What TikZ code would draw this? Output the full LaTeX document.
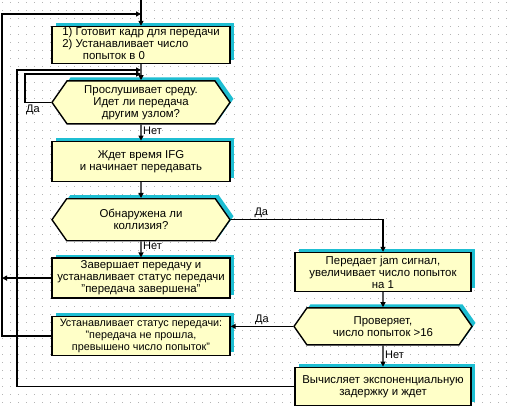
\documentclass[tikz,border=0pt]{standalone}
\usepackage{fontspec}
\setmainfont{Liberation Sans}
\usetikzlibrary{arrows.meta, positioning, shapes.symbols, shadows}

\definecolor{boxfill}{RGB}{255,255,200}
\definecolor{shadowc}{RGB}{30,190,210}
\definecolor{gridc}{RGB}{180,180,180}

\begin{document}
\begin{tikzpicture}[x=1pt, y=-1pt,
  block/.style={draw, line width=1.4pt, fill=boxfill, minimum width=178pt,
                align=center, inner sep=1pt, font=\fontsize{11.4}{12}\selectfont,
                general shadow={fill=shadowc, shadow xshift=3.5pt, shadow yshift=3.5pt}},
  stepbox/.style={block, rectangle},
  testbox/.style={block, signal, signal to=west and east, signal pointer angle=110},
  lbl/.style={font=\fontsize{11}{12}\selectfont, inner sep=1.5pt},
  arr/.style={line width=1.3pt, -{Triangle[length=5pt, width=5pt]}},
  node distance=16pt
]
  \useasboundingbox (0,0) rectangle (508,406);
  % dotted background
  \foreach \gx in {2,10,...,506}
    \foreach \gy in {2,10,...,402}
      \fill[gridc] (\gx,\gy) rectangle ++(1,1);

  % left column
  \node[stepbox, minimum height=37pt, align=left] (prep) at (141,45)
    {1) Готовит кадр для передачи\\ 2) Устанавливает число\\ \phantom{2) У}попыток в 0};
  \node[testbox, minimum height=43pt, below=of prep] (listen)
    {Прослушивает среду.\\ Идет ли передача\\ другим узлом?};
  \node[stepbox, minimum height=40pt, below=of listen] (ifg)
    {Ждет время IFG\\ и начинает передавать};
  \node[testbox, minimum height=42pt, below=of ifg] (coll)
    {Обнаружена ли\\ коллизия?};
  \node[stepbox, minimum height=40pt, below=of coll] (done)
    {Завершает передачу и\\ устанавливает статус передачи\\ "передача завершена"};
  \node[stepbox, minimum height=39pt, below=17pt of done, font=\fontsize{10.8}{12}\selectfont] (fail)
    {Устанавливает статус передачи:\\ "передача не прошла,\\ превышено число попыток"};

  % right column
  \node[stepbox, minimum width=176pt, minimum height=39pt] (jam) at (383,272)
    {Передает jam сигнал,\\ увеличивает число попыток\\ на 1};
  \node[testbox, minimum height=37pt, below=15pt of jam] (count)
    {Проверяет,\\ число попыток >16};
  \node[stepbox, minimum width=176pt, minimum height=38pt, below=21pt of count] (backoff)
    {Вычисляет экспоненциальную\\ задержку и ждет};

  \coordinate (entry) at (141,0);
  \coordinate (back1) at (141,14);
  \coordinate (back2) at (141,70);
  \coordinate (back3) at (141,74);
  \coordinate (outer) at (2,0);
  \coordinate (inner) at (17,0);

  \draw[arr] (entry) -- (prep);
  \draw[arr] (prep) -- (listen);
  \draw[arr] (listen) -- node[lbl, right, pos=0.4] {Нет} (ifg);
  \draw[arr] (ifg) -- (coll);
  \draw[arr] (coll) -- node[lbl, right, pos=0.3] {Нет} (done);
  \draw[arr] (coll.east) -| node[lbl, above, pos=0.1] {Да} (jam);
  \draw[arr] (jam) -- (count);
  \draw[arr] (count.west) -- node[lbl, above] {Да} (count.west -| fail.east);
  \draw[arr] (count) -- node[lbl, right, pos=0.45] {Нет} (backoff);

  % loops back
  \draw[arr] (listen.west) -- node[lbl, below, pos=0.7] {Да} ++(-26,0) |- (back3);
  \draw[arr] (backoff.west) -| (inner |- back2) -- (back2);
  \draw[arr] (fail.west) -| (outer |- back1) -- (back1);
  \draw[arr] (done.west) -- (done.west -| outer);
\end{tikzpicture}
\end{document}
